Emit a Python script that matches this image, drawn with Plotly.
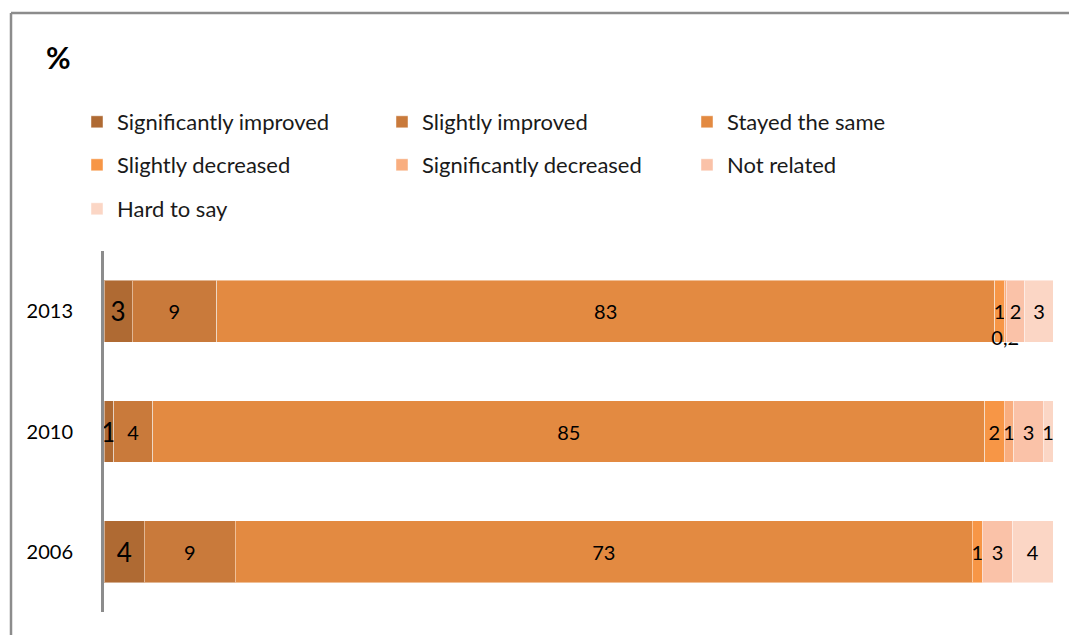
import plotly.graph_objects as go

# Survey years (top to bottom as drawn) and answer categories
years = ["2013", "2010", "2006"]
series_names = [
    "Significantly improved",
    "Slightly improved",
    "Stayed the same",
    "Slightly decreased",
    "Significantly decreased",
    "Not related",
    "Hard to say",
]
series_colors = [
    "#AF6A33",
    "#C97A3B",
    "#E38A41",
    "#F79646",
    "#F9AE7F",
    "#FAC2A8",
    "#FBD6C5",
]

# Share of answers per year, in the order of `years`
sig_improved = [3, 1, 4]
slightly_improved = [9, 4, 9]
stayed_same = [83, 85, 73]
slightly_decreased = [1, 2, 1]
sig_decreased = [0.2, 1, 0]
not_related = [2, 3, 3]
hard_to_say = [3, 1, 4]

series_values = [
    sig_improved,
    slightly_improved,
    stayed_same,
    slightly_decreased,
    sig_decreased,
    not_related,
    hard_to_say,
]

FONT = "Lato"
W, H = 1069, 635
M_L, M_R, M_T, M_B = 104, 16, 251, 23
plot_w = W - M_L - M_R
plot_h = H - M_T - M_B


def px_to_paper_x(px):
    return (px - M_L) / plot_w


def px_to_paper_y(py):
    return 1 + (M_T - py) / plot_h


def fmt(v):
    return f"{v:g}".replace(".", ",")


def label(v):
    # zero shares get no label; fractional shares sit below the others
    if v == 0:
        return ""
    if v < 0.5:
        return "\u00a0<br>\u00a0<br>" + fmt(v)
    return fmt(v)


# legend rows: three items per row, each row its own legend box
legend_ids = ["legend", "legend", "legend", "legend2", "legend2", "legend2", "legend3"]

fig = go.Figure()
for i, (name, color, vals, lg) in enumerate(zip(series_names, series_colors, series_values, legend_ids)):
    fig.add_trace(
        go.Bar(
            y=years,
            x=vals,
            name=name,
            orientation="h",
            marker=dict(color=color, line=dict(color="rgba(255,255,255,0.45)", width=1)),
            legend=lg,
            text=[label(v) for v in vals],
            textposition="inside",
            insidetextanchor="middle",
            textangle=0,
            constraintext="none",
            cliponaxis=False,
            textfont=dict(family=FONT, size=26 if i == 0 else 20, color="#000000"),
            hovertemplate="%{y}: %{customdata}<extra>" + name + "</extra>",
            customdata=[fmt(v) for v in vals],
        )
    )

# "%" heading
annotations = [
    dict(
        x=px_to_paper_x(58),
        y=px_to_paper_y(57),
        xref="paper",
        yref="paper",
        text="<b>%</b>",
        showarrow=False,
        xanchor="center",
        yanchor="middle",
        font=dict(family=FONT, size=30, color="#000000"),
    )
]

# Frame around the chart (top and left edges visible)
frame_color = "#8C8C8C"
shapes = [
    dict(
        type="line",
        xref="paper",
        yref="paper",
        x0=px_to_paper_x(11),
        x1=px_to_paper_x(1080),
        y0=px_to_paper_y(13),
        y1=px_to_paper_y(13),
        line=dict(color=frame_color, width=2.5),
    ),
    dict(
        type="line",
        xref="paper",
        yref="paper",
        x0=px_to_paper_x(11),
        x1=px_to_paper_x(11),
        y0=px_to_paper_y(13),
        y1=px_to_paper_y(645),
        line=dict(color=frame_color, width=2.5),
    ),
]

legend_common = dict(
    orientation="h",
    entrywidth=260,
    entrywidthmode="pixels",
    xanchor="left",
    yanchor="middle",
    font=dict(family=FONT, size=22, color="#1A1A1A"),
    bgcolor="rgba(0,0,0,0)",
    itemclick=False,
    itemdoubleclick=False,
    traceorder="normal",
)
legend_x = px_to_paper_x(77)

fig.update_layout(
    width=W,
    height=H,
    margin=dict(l=M_L, r=M_R, t=M_T, b=M_B, autoexpand=False),
    paper_bgcolor="white",
    plot_bgcolor="white",
    barmode="stack",
    barnorm="percent",
    bargap=0.485,
    font=dict(family=FONT, size=20, color="#000000"),
    xaxis=dict(visible=False, fixedrange=True),
    yaxis=dict(
        type="category",
        autorange="reversed",
        showline=True,
        linecolor=frame_color,
        linewidth=3,
        ticks="outside",
        ticklen=24,
        tickcolor="rgba(0,0,0,0)",
        tickfont=dict(family=FONT, size=20, color="#000000"),
        showgrid=False,
        zeroline=False,
        fixedrange=True,
    ),
    legend=dict(x=legend_x, y=px_to_paper_y(122), **legend_common),
    legend2=dict(x=legend_x, y=px_to_paper_y(165), **legend_common),
    legend3=dict(x=legend_x, y=px_to_paper_y(209), **legend_common),
    annotations=annotations,
    shapes=shapes,
    showlegend=True,
)

fig.write_html("out.html")
